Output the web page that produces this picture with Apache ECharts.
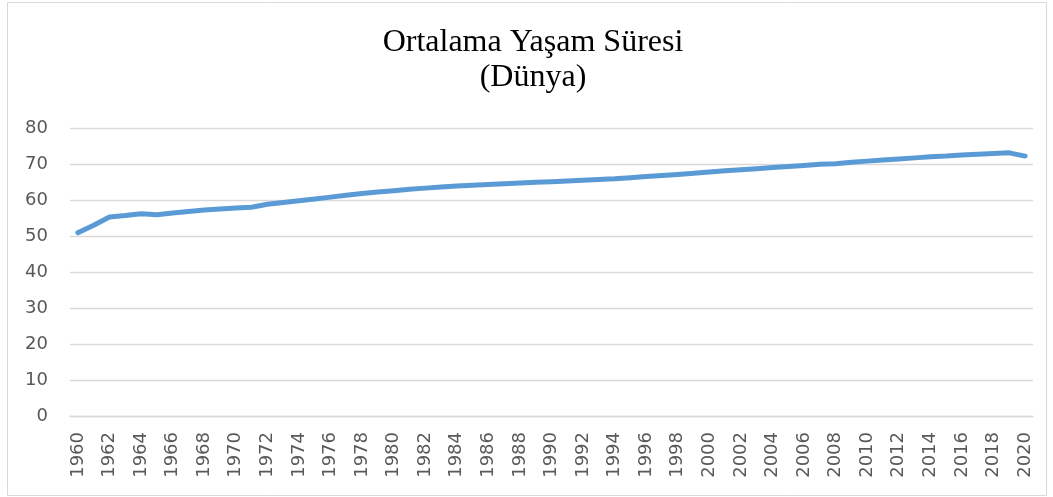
<!DOCTYPE html>
<html>
<head>
<meta charset="utf-8">
<script src="https://cdn.jsdelivr.net/npm/echarts@6/dist/echarts.min.js"></script>
<style>
  html, body { margin: 0; padding: 0; background: #fff; }
  #chart { width: 1053px; height: 497px; }
</style>
</head>
<body>
<div id="chart"></div>
<script>
// yıllar 1960 - 2020
var years = [];
for (var y = 1960; y <= 2020; y++) years.push(String(y));

// ortalama yaşam süresi (okunan değerler)
var lifeExp = [
  50.9, 53.0, 55.3, 55.7, 56.2, 55.9, 56.4, 56.8, 57.2, 57.5,
  57.8, 58.0, 58.8, 59.3, 59.8, 60.3, 60.8, 61.3, 61.8, 62.2,
  62.6, 63.0, 63.3, 63.6, 63.9, 64.1, 64.3, 64.5, 64.7, 64.9,
  65.1, 65.3, 65.5, 65.7, 65.9, 66.2, 66.5, 66.8, 67.1, 67.4,
  67.8, 68.1, 68.4, 68.7, 69.0, 69.3, 69.6, 69.9, 70.1, 70.5,
  70.8, 71.1, 71.4, 71.7, 72.0, 72.2, 72.5, 72.7, 72.9, 73.1,
  72.2
];

var yTicks = { min: 0, max: 80, interval: 10 };

var chart = echarts.init(document.getElementById('chart'));
chart.setOption({
  backgroundColor: '#fff',
  animation: false,
  title: {
    text: 'Ortalama Yaşam Süresi\n(Dünya)',
    left: 528,
    top: 20,
    textAlign: 'center',
    textStyle: {
      fontFamily: 'Liberation Serif',
      fontWeight: 'normal',
      fontSize: 32,
      lineHeight: 35,
      color: '#000'
    }
  },
  graphic: [{
    type: 'rect',
    shape: { x: 7.5, y: 2.5, width: 1039, height: 493 },
    style: { fill: 'none', stroke: '#d9d9d9', lineWidth: 1 },
    silent: true
  }],
  grid: { left: 70, right: 20, top: 128, bottom: 81 },
  xAxis: {
    type: 'category',
    data: years,
    boundaryGap: true,
    axisLine: { lineStyle: { color: '#d9d9d9', width: 1.3 } },
    axisTick: { show: false },
    axisLabel: {
      interval: 1,
      rotate: 90,
      margin: 16,
      fontFamily: 'DejaVu Sans',
      fontSize: 18,
      color: '#595959'
    }
  },
  yAxis: {
    type: 'value',
    min: yTicks.min,
    max: yTicks.max,
    interval: yTicks.interval,
    axisLine: { show: false },
    axisTick: { show: false },
    splitLine: { lineStyle: { color: '#d9d9d9', width: 1.3 } },
    axisLabel: {
      margin: 22,
      fontFamily: 'DejaVu Sans',
      fontSize: 18,
      color: '#595959'
    }
  },
  series: [{
    type: 'line',
    data: lifeExp,
    showSymbol: false,
    symbol: 'none',
    lineStyle: { color: '#5b9bd5', width: 5, cap: 'round', join: 'round' }
  }]
});
</script>
</body>
</html>
